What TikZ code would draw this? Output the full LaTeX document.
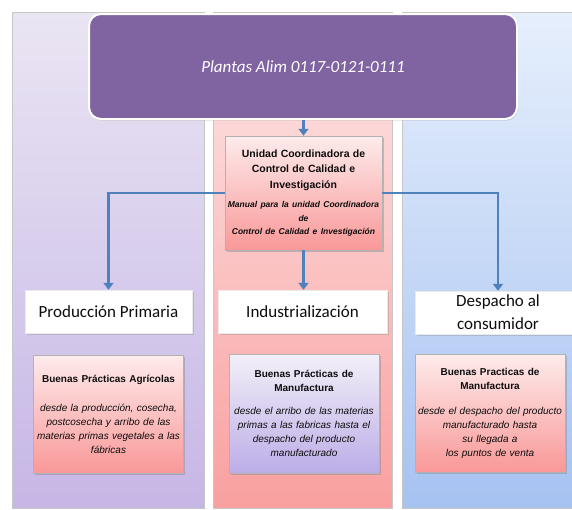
\documentclass[tikz,border=0pt]{standalone}
\usepackage{fontspec}
\setmainfont{Liberation Sans}
\newfontfamily\carlito{Carlito}
\usepackage{tikz}
\usetikzlibrary{arrows.meta,positioning,shadows}
\definecolor{headpurple}{HTML}{8064A2}
\definecolor{arrowblue}{HTML}{4F81BD}
\definecolor{lilactop}{HTML}{EAE5F3}
\definecolor{lilacbot}{HTML}{C6B6E6}
\definecolor{rosetop}{HTML}{FDE6E6}
\definecolor{rosebot}{HTML}{F9A0A0}
\definecolor{skytop}{HTML}{E6EFFC}
\definecolor{skybot}{HTML}{A6C2F1}

\begin{document}
\begin{tikzpicture}[x=1pt, y=-1pt,
    panel/.style={draw=black!22, line width=0.6pt},
    header/.style={rectangle, rounded corners=12pt, fill=headpurple, draw=white, line width=2pt, minimum width=428pt, minimum height=105pt, text=white, font=\carlito\itshape\fontsize{17}{20}\selectfont, drop shadow={shadow xshift=1pt, shadow yshift=-1.5pt, opacity=0.3}},
    titlebox/.style={rectangle, fill=white, draw=black!8, minimum height=43pt, inner sep=1pt, align=center, text=black!95, font=\carlito\fontsize{17}{23}\selectfont, drop shadow={shadow xshift=1.5pt, shadow yshift=-1.5pt, opacity=0.3}},
    infobox/.style={rectangle, draw=black!30, line width=0.5pt, text width=146pt, inner sep=2pt, align=center, text=black!95, font=\fontsize{10}{14}\selectfont, drop shadow={shadow xshift=1.5pt, shadow yshift=-1.5pt, opacity=0.4}},
    pinkbox/.style={infobox, top color=rosetop!80!white, bottom color=rosebot!95!red},
    lilacbox/.style={infobox, top color=lilactop!60!white, bottom color=lilacbot!95!blue},
    arrow/.style={-{Triangle[length=7pt, width=10pt]}, line width=2.2pt, arrowblue}
]
    \useasboundingbox (0,0) rectangle (572,509);
    \clip (0,0) rectangle (572,509);

    % columns
    \path[panel, top color=lilactop, bottom color=lilacbot] (12,12) rectangle (204,508);
    \path[panel, top color=rosetop, bottom color=rosebot] (213,12) rectangle (392,508);
    \path[panel, top color=skytop, bottom color=skybot] (402,12) rectangle (585,508);

    \node[header] (plantas) at (303,66.5) {Plantas Alim 0117-0121-0111};

    \node[pinkbox, minimum width=157pt, minimum height=114pt, text width=153pt] (unidad) at (303.5,193)
        {{\fontsize{10.5}{15.5}\selectfont\bfseries Unidad Coordinadora de\\Control de Calidad e\\Investigación\par}\vspace{6pt}
         {\fontsize{8.5}{13.5}\selectfont\bfseries\itshape Manual para la unidad Coordinadora\\de\\Control de Calidad e Investigación\par}};

    \node[titlebox, minimum width=167pt] (prod)  at (108.5,311.5) {Producción Primaria};
    \node[titlebox, minimum width=169pt] (indus) at (302.5,311.5) {Industrialización};
    \node[titlebox, minimum width=166pt] (desp)  at (498,312.5)   {Despacho al\\consumidor};

    \node[pinkbox, minimum width=149pt, minimum height=118pt] (bpa) at (108.5,414)
        {{\bfseries Buenas Prácticas Agrícolas\par}\vspace{15pt}
         {\itshape desde la producción, cosecha,\\postcosecha y arribo de las\\materias primas vegetales a las\\fábricas\par}};
    \node[lilacbox, minimum width=148pt, minimum height=119pt] (bpm) at (304,413.5)
        {{\bfseries Buenas Prácticas de\\Manufactura\par}\vspace{9pt}
         {\itshape desde el arribo de las materias\\primas a las fabricas hasta el\\despacho del producto\\manufacturado\par}};
    \node[pinkbox, minimum width=150pt, minimum height=118pt] (bpd) at (490,413)
        {{\bfseries Buenas Practicas de\\Manufactura\par}\vspace{11pt}
         {\itshape desde el despacho del producto\\manufacturado hasta\\su llegada a\\los puntos de venta\par}};

    \draw[arrow] (plantas.south -| unidad.north) -- (unidad.north);
    \draw[arrow] (unidad.west) -| (prod.north);
    \draw[arrow] (unidad.east) -| (desp.north);
    \draw[arrow] (unidad.south) -- (unidad.south |- indus.north);
\end{tikzpicture}
\end{document}
